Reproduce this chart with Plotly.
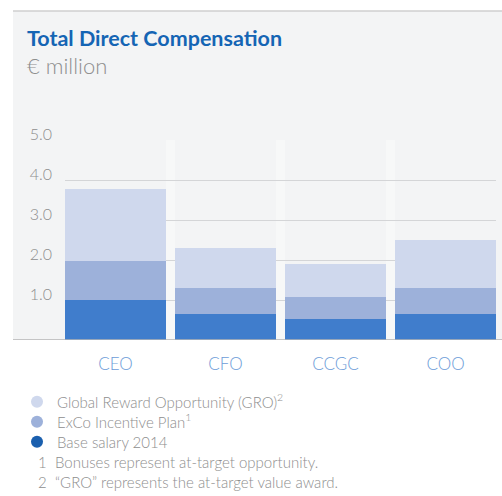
import plotly.graph_objects as go

categories = ["CEO", "CFO", "CCGC", "COO"]
base_salary = [1.0, 0.65, 0.52, 0.65]
exco_plan = [0.98, 0.65, 0.55, 0.65]
gro = [1.82, 1.0, 0.83, 1.22]
y_ticks = [1, 2, 3, 4, 5]
y_tick_text = ["1.0", "2.0", "3.0", "4.0", "5.0"]

C_BASE = "#407dcc"
C_EXCO = "#9db1da"
C_GRO = "#cfd8ed"
C_BASE_LEG = "#1a5fae"
GRAY = "#8e8e8e"
FONT = "Lato"

W, H = 502, 496
L, R, T, B = 65, 6, 140, 156
PW = W - L - R
PH = H - T - B


def px(x):
    return (x - L) / PW


def py(y):
    return (H - B - y) / PH


fig = go.Figure()

fig.add_trace(go.Bar(x=categories, y=base_salary, marker=dict(color=C_BASE, line=dict(width=0)),
                     showlegend=False, name="Base salary 2014"))
fig.add_trace(go.Bar(x=categories, y=exco_plan, marker=dict(color=C_EXCO, line=dict(width=0)),
                     showlegend=False, name="ExCo Incentive Plan"))
fig.add_trace(go.Bar(x=categories, y=gro, marker=dict(color=C_GRO, line=dict(width=0)),
                     showlegend=False, name="Global Reward Opportunity (GRO)"))

# legend entries (circles), one legend per row for exact placement
legend_items = [("Global Reward Opportunity (GRO)<sup>2</sup>", C_GRO, "legend", 402),
                ("ExCo Incentive Plan<sup>1</sup>", C_EXCO, "legend2", 422),
                ("Base salary 2014", C_BASE_LEG, "legend3", 442)]
legend_layouts = {}
for name, col, lg, ypix in legend_items:
    fig.add_trace(go.Scatter(x=[None], y=[None], mode="markers", name=name, legend=lg,
                             marker=dict(size=14, color=col, symbol="circle")))
    legend_layouts[lg] = dict(x=px(17), y=py(ypix), xanchor="left", yanchor="middle",
                              bgcolor="rgba(0,0,0,0)",
                              font=dict(family=FONT, size=15, color=GRAY, weight=300),
                              itemsizing="constant", borderwidth=0)

shapes = [
    # panel background
    dict(type="rect", xref="paper", yref="paper", x0=px(13), x1=px(502), y0=py(340), y1=py(11),
         fillcolor="#f3f4f5", line=dict(width=0), layer="below"),
    # top rule
    dict(type="line", xref="paper", yref="paper", x0=px(13), x1=px(502), y0=py(11), y1=py(11),
         line=dict(color="#cfcfcf", width=1.5), layer="above"),
    # baseline
    dict(type="line", xref="paper", yref="y", x0=px(13), x1=px(502), y0=0, y1=0,
         line=dict(color="#b4b4b4", width=1.5), layer="above"),
]

annotations = [
    dict(text="<b>Total Direct Compensation</b>", xref="paper", yref="paper", x=px(25), y=py(38),
         xanchor="left", yanchor="middle", showarrow=False,
         font=dict(family=FONT, size=21.5, color="#1565b4")),
    dict(text="€ million", xref="paper", yref="paper", x=px(25), y=py(65),
         xanchor="left", yanchor="middle", showarrow=False,
         font=dict(family=FONT, size=22, color="#8e8e8e", weight=300)),
    dict(text="1", xref="paper", yref="paper", x=px(36), y=py(462),
         xanchor="left", yanchor="middle", showarrow=False,
         font=dict(family=FONT, size=15, color=GRAY, weight=300)),
    dict(text="Bonuses represent at-target opportunity.", xref="paper", yref="paper", x=px(53), y=py(462),
         xanchor="left", yanchor="middle", showarrow=False,
         font=dict(family=FONT, size=15, color=GRAY, weight=300)),
    dict(text="2", xref="paper", yref="paper", x=px(36), y=py(482),
         xanchor="left", yanchor="middle", showarrow=False,
         font=dict(family=FONT, size=15, color=GRAY, weight=300)),
    dict(text="“GRO” represents the at-target value award.", xref="paper", yref="paper", x=px(53), y=py(482),
         xanchor="left", yanchor="middle", showarrow=False,
         font=dict(family=FONT, size=15, color=GRAY, weight=300)),
]

fig.update_layout(
    width=W, height=H,
    margin=dict(l=L, r=R, t=T, b=B, pad=0),
    paper_bgcolor="#ffffff",
    plot_bgcolor="#ebecee",
    barmode="stack",
    bargap=0.082,
    shapes=shapes,
    annotations=annotations,
    showlegend=True,
    xaxis=dict(range=[-0.459, 3.459], showgrid=True, tickson="boundaries",
               gridcolor="#f7f8f8", gridwidth=9, ticks="", showline=False, zeroline=False,
               tickfont=dict(family=FONT, size=17, color="#6d9cd8", weight=300),
               ticklabelstandoff=12, fixedrange=True),
    yaxis=dict(range=[0, 5.02], tickvals=y_ticks, ticktext=y_tick_text, showgrid=True,
               gridcolor="#d4d5d7", gridwidth=1, zeroline=False, showline=False, ticks="",
               tickfont=dict(family=FONT, size=16, color=GRAY, weight=300),
               ticklabelstandoff=12, ticklabelshift=-6, fixedrange=True),
    font=dict(family=FONT),
    **legend_layouts,
)

fig.write_html("out.html", config={"displayModeBar": False},
               post_script="document.body.style.margin='0';document.body.style.overflow='hidden';")
